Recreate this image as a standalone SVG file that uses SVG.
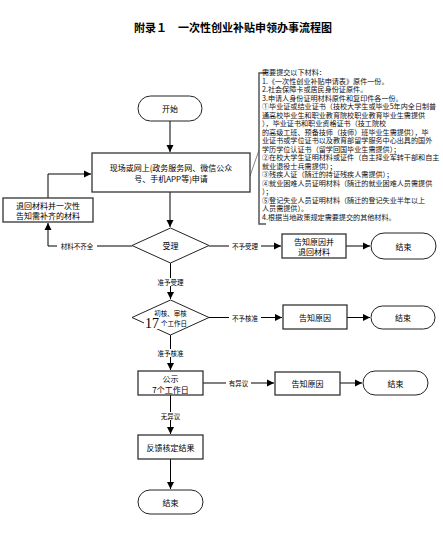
<svg xmlns="http://www.w3.org/2000/svg" width="443" height="533" viewBox="0 0 443 533">
<defs>
<marker id="ah" markerWidth="8" markerHeight="8" refX="7" refY="4" orient="auto" markerUnits="userSpaceOnUse">
<path d="M0,0.5 L7,4 L0,7.5 Z" fill="#000"/>
</marker>
<style>
.box{fill:#fff;stroke:#333;stroke-width:1.3}
.term{fill:#fff;stroke:#222;stroke-width:1}
.t{font-family:"Noto Sans CJK SC","Noto Sans",sans-serif;font-size:8px;fill:#000;text-anchor:middle;dominant-baseline:central}
.lbl{font-family:"Noto Sans CJK SC","Noto Sans",sans-serif;font-size:6.5px;fill:#000;text-anchor:middle;dominant-baseline:central}
.lb{fill:#fff}
.c{fill:none;stroke:#000;stroke-width:1}
.note{font-family:"Noto Sans CJK SC","Noto Sans",sans-serif;font-size:7.1px;fill:#111}
</style>
</defs>
<rect width="443" height="533" fill="#fff"/>
<text x="233" y="27" font-family="'Noto Sans CJK SC',sans-serif" font-size="11" font-weight="bold" text-anchor="middle" dominant-baseline="central">附录１　一次性创业补贴申领办事流程图</text>

<g id="connectors">
<line class="c" x1="170" y1="121" x2="170" y2="152" marker-end="url(#ah)"/>
<line class="c" x1="170" y1="192" x2="170" y2="227" marker-end="url(#ah)"/>
<polyline class="c" points="132,246 48,246 48,223" marker-end="url(#ah)"/>
<polyline class="c" points="48,198 48,174 91,174" marker-end="url(#ah)"/>
<line class="c" x1="209" y1="246" x2="281" y2="246" marker-end="url(#ah)"/>
<line class="c" x1="346" y1="246" x2="370" y2="246" marker-end="url(#ah)"/>
<line class="c" x1="170.5" y1="263" x2="170.5" y2="299" marker-end="url(#ah)"/>
<line class="c" x1="209" y1="317.5" x2="282" y2="317.5" marker-end="url(#ah)"/>
<line class="c" x1="347" y1="317.5" x2="370" y2="317.5" marker-end="url(#ah)"/>
<line class="c" x1="170.5" y1="335" x2="170.5" y2="370" marker-end="url(#ah)"/>
<line class="c" x1="203" y1="383" x2="274" y2="383" marker-end="url(#ah)"/>
<line class="c" x1="340" y1="383" x2="362" y2="383" marker-end="url(#ah)"/>
<line class="c" x1="170.5" y1="395" x2="170.5" y2="434" marker-end="url(#ah)"/>
<line class="c" x1="170.5" y1="459" x2="170.5" y2="489" marker-end="url(#ah)"/>
<line x1="250" y1="176" x2="259" y2="150" stroke="#666" stroke-width="0.8"/>
<rect class="lb" x="57" y="242" width="40" height="8"/>
<text class="lbl" x="77" y="246">材料不齐全</text>
<rect class="lb" x="229" y="242" width="32" height="8"/>
<text class="lbl" x="245" y="246">不予受理</text>
<rect class="lb" x="154" y="278" width="33" height="8"/>
<text class="lbl" x="170.5" y="282">准予受理</text>
<rect class="lb" x="229" y="313.5" width="32" height="8"/>
<text class="lbl" x="245" y="317.5">不予核准</text>
<rect class="lb" x="154" y="349" width="33" height="8"/>
<text class="lbl" x="170.5" y="353">准予核准</text>
<rect class="lb" x="226" y="379" width="25" height="8"/>
<text class="lbl" x="238.5" y="383">有异议</text>
<rect class="lb" x="158" y="412" width="25" height="8"/>
<text class="lbl" x="170.5" y="416">无异议</text>
</g>

<g id="note">
<polyline points="266,73 259,73 259,224 266,224" fill="none" stroke="#555" stroke-width="1.5"/>
<text class="note" x="262" y="75">需要提交以下材料：</text>
<text class="note" x="262" y="83.5">1.《一次性创业补贴申请表》原件一份。</text>
<text class="note" x="262" y="92">2.社会保障卡或居民身份证原件。</text>
<text class="note" x="262" y="100.5">3.申请人身份证明材料原件和复印件各一份。</text>
<text class="note" x="262" y="109">①毕业证或结业证书（技校大学生或毕业5年内全日制普</text>
<text class="note" x="262" y="117.5">通高校毕业生和职业教育院校职业教育毕业生需提供</text>
<text class="note" x="262" y="126">），毕业证书和职业资格证书（技工院校</text>
<text class="note" x="262" y="134.5">的高级工班、预备技师（技师）班毕业生需提供），毕</text>
<text class="note" x="262" y="143">业证书或学位证书以及教育部留学服务中心出具的国外</text>
<text class="note" x="262" y="151.5">学历学位认证书（留学回国毕业生需提供）；</text>
<text class="note" x="262" y="160">②在校大学生证明材料或证件（自主择业军转干部和自主</text>
<text class="note" x="262" y="168.5">就业退役士兵需提供）；</text>
<text class="note" x="262" y="177">③残疾人证（随迁的持证残疾人需提供）；</text>
<text class="note" x="262" y="185.5">④就业困难人员证明材料（随迁的就业困难人员需提供</text>
<text class="note" x="262" y="194">）；</text>
<text class="note" x="262" y="202.5">⑤登记失业人员证明材料（随迁的登记失业半年以上</text>
<text class="note" x="262" y="211">人员需提供）。</text>
<text class="note" x="262" y="219.5">4.根据当地政策规定需要提交的其他材料。</text>
</g>

<g id="start">
<rect class="term" x="138" y="96" width="64" height="25" rx="12.5"/>
<text class="t" x="170" y="108.5">开始</text>
</g>
<g id="apply">
<rect class="box" x="92" y="153" width="158" height="39"/>
<text class="t" x="171" y="167">现场或网上(政务服务网、微信公众</text>
<text class="t" x="171" y="178">号、手机APP等)申请</text>
</g>
<g id="return">
<rect class="box" x="3" y="198" width="90" height="24"/>
<text class="t" x="48" y="205">退回材料并一次性</text>
<text class="t" x="48" y="215">告知需补齐的材料</text>
</g>
<g id="accept">
<polygon class="term" points="170.5,228 209,245.5 170.5,263 132,245.5"/>
<text class="t" x="170.5" y="245.5">受理</text>
</g>
<g id="reject1">
<rect class="box" x="282" y="234" width="64" height="24"/>
<text class="t" x="314" y="241">告知原因并</text>
<text class="t" x="314" y="251">退回材料</text>
</g>
<g id="end1">
<rect class="term" x="371" y="233" width="65" height="26" rx="13"/>
<text class="t" x="403.5" y="246">结束</text>
</g>
<g id="review">
<polygon class="term" points="170.5,300 209,317.5 170.5,335 132,317.5"/>
<text class="lbl" x="170.5" y="312.5" font-size="7">初核、审核</text>
<text class="lbl" x="174" y="322.5" font-size="7">个工作日</text>
<rect class="lb" x="144" y="316" width="15" height="13"/>
<text x="145" y="327.5" font-family="'Liberation Serif',serif" font-size="14" fill="#000">17</text>
</g>
<g id="reject2">
<rect class="box" x="283" y="305" width="64" height="24"/>
<text class="t" x="315" y="317">告知原因</text>
</g>
<g id="end2">
<rect class="term" x="371" y="306" width="64" height="23" rx="11.5"/>
<text class="t" x="403" y="317.5">结束</text>
</g>
<g id="publicity">
<rect class="box" x="138" y="371" width="65" height="24"/>
<text class="t" x="170.5" y="378">公示</text>
<text class="t" x="170.5" y="389">7个工作日</text>
</g>
<g id="reject3">
<rect class="box" x="275" y="372" width="65" height="23"/>
<text class="t" x="307.5" y="383.5">告知原因</text>
</g>
<g id="end3">
<rect class="term" x="363" y="371" width="65" height="24" rx="12"/>
<text class="t" x="395.5" y="383">结束</text>
</g>
<g id="feedback">
<rect class="box" x="138" y="435" width="65" height="24" stroke-width="1.6"/>
<text class="t" x="170.5" y="447">反馈核定结果</text>
</g>
<g id="end4">
<rect class="term" x="138" y="490" width="65" height="24" rx="12"/>
<text class="t" x="170.5" y="502">结束</text>
</g>
</svg>
